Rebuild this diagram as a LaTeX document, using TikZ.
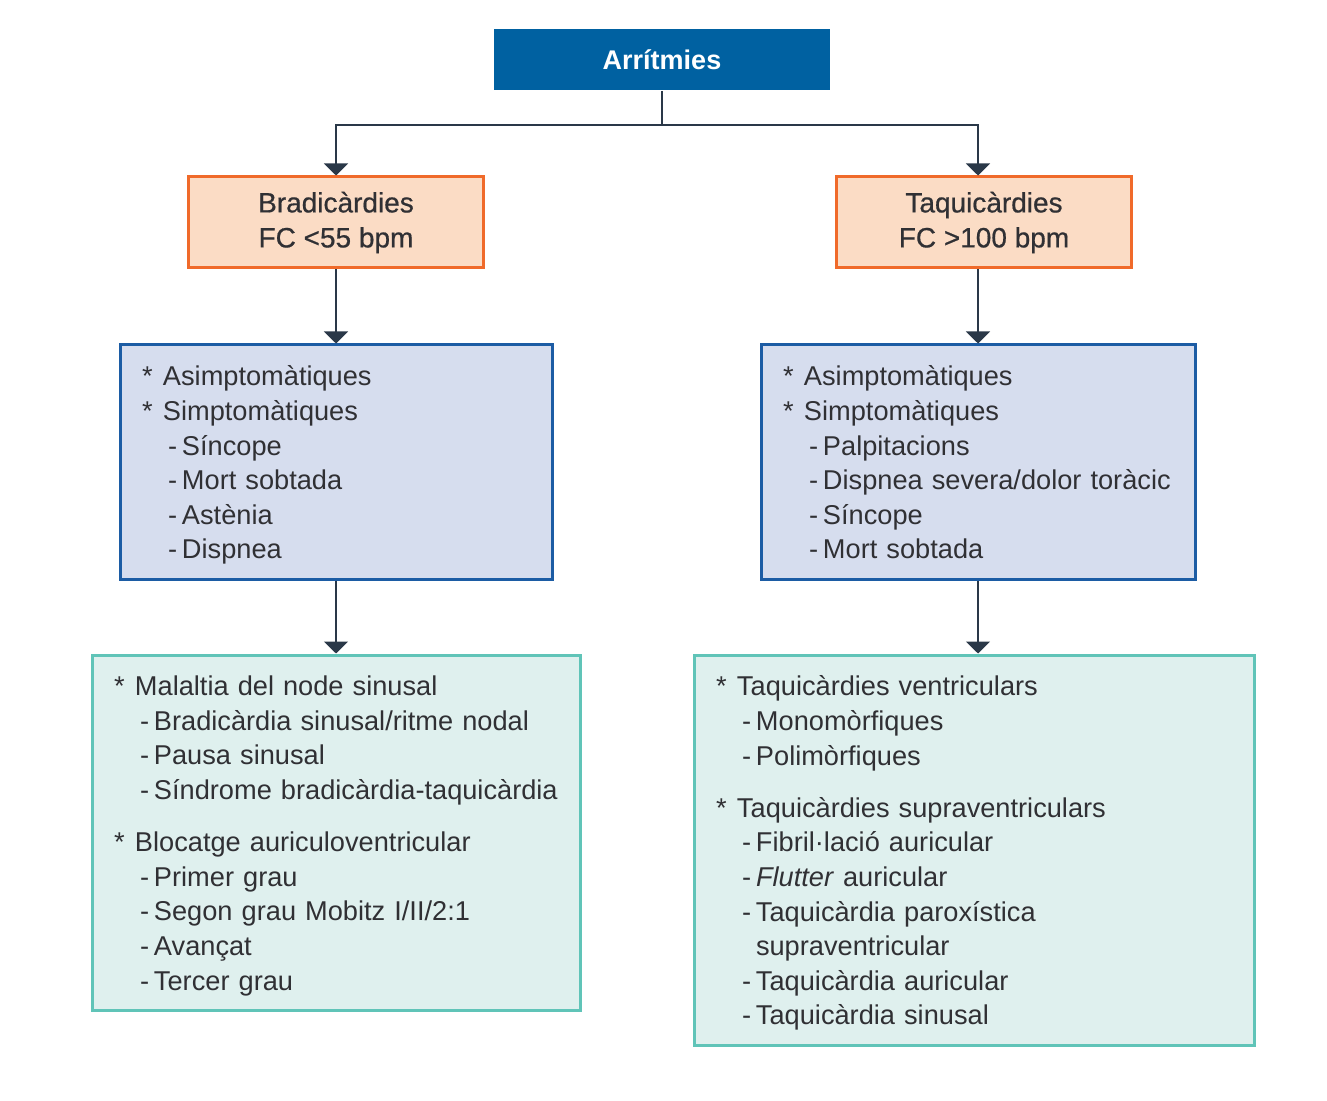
\documentclass[tikz,border=0pt]{standalone}
\usepackage{fontspec}
\setmainfont{Liberation Sans}
\newfontfamily\medfont[FakeBold=0.6]{Liberation Sans}
\usetikzlibrary{arrows.meta}
\definecolor{rootblue}{RGB}{0,97,161}
\definecolor{peachfill}{RGB}{251,220,197}
\definecolor{peachline}{RGB}{240,106,42}
\definecolor{lavfill}{RGB}{214,221,238}
\definecolor{lavline}{RGB}{28,92,164}
\definecolor{mintfill}{RGB}{223,240,238}
\definecolor{mintline}{RGB}{96,196,184}
\definecolor{inkgray}{RGB}{48,48,52}
\definecolor{linegray}{RGB}{42,56,72}
\newcommand{\itm}[1]{\strut\makebox[10.5pt][l]{*}#1}
\newcommand{\sbi}[1]{\strut\hspace*{13pt}\makebox[7pt][l]{-}#1}
\newcommand{\fst}[1]{\rule{0pt}{15.6pt}\itm{#1}}

\begin{document}
\begin{tikzpicture}[x=0.5pt,y=-0.5pt,
  rootbox/.style={fill=rootblue,text=white,font=\bfseries\fontsize{13.5pt}{17pt}\selectfont,
    minimum width=168pt,minimum height=30.5pt,inner sep=0pt},
  hdrbox/.style={fill=peachfill,draw=peachline,line width=1.5pt,text=inkgray,align=center,
    font=\medfont\fontsize{14pt}{17.5pt}\selectfont,minimum width=147.5pt,minimum height=45.5pt,inner sep=0pt},
  listbox/.style={line width=1.5pt,text=inkgray,align=left,inner xsep=11pt,inner ysep=0pt,
    font=\fontsize{13.6pt}{17.3pt}\selectfont},
  symbox/.style={listbox,fill=lavfill,draw=lavline,minimum height=117pt},
  causbox/.style={listbox,fill=mintfill,draw=mintline},
  conn/.style={draw=linegray,line width=1pt,-{Triangle[width=12pt,length=6pt]}}]
  \useasboundingbox (0,0) rectangle (1327,1101);
  \node[rootbox] (1) at (662,60) {Arrítmies};
  \node[hdrbox] (2) at (336,222.5) {Bradicàrdies\\FC <55 bpm};
  \node[hdrbox] (3) at (984,222.5) {Taquicàrdies\\FC >100 bpm};
  \node[symbox,text width=194pt] (4) at (336,462) {%
    \fst{Asimptomàtiques}\\
    \itm{Simptomàtiques}\\
    \sbi{Síncope}\\
    \sbi{Mort sobtada}\\
    \sbi{Astènia}\\
    \sbi{Dispnea}};
  \node[symbox,text width=195pt] (5) at (978,462) {%
    \fst{Asimptomàtiques}\\
    \itm{Simptomàtiques}\\
    \sbi{Palpitacions}\\
    \sbi{Dispnea severa/dolor toràcic}\\
    \sbi{Síncope}\\
    \sbi{Mort sobtada}};
  \node[causbox,text width=222pt,minimum height=177.5pt] (6) at (336,832.5) {%
    \fst{Malaltia del node sinusal}\\
    \sbi{Bradicàrdia sinusal/ritme nodal}\\
    \sbi{Pausa sinusal}\\
    \sbi{Síndrome bradicàrdia-taquicàrdia}\\[8.75pt]
    \itm{Blocatge auriculoventricular}\\
    \sbi{Primer grau}\\
    \sbi{Segon grau Mobitz I/II/2:1}\\
    \sbi{Avançat}\\
    \sbi{Tercer grau}};
  \node[causbox,text width=258pt,minimum height=195pt] (7) at (974,850) {%
    \fst{Taquicàrdies ventriculars}\\
    \sbi{Monomòrfiques}\\
    \sbi{Polimòrfiques}\\[8.75pt]
    \itm{Taquicàrdies supraventriculars}\\
    \sbi{Fibril·lació auricular}\\
    \sbi{\textit{Flutter} auricular}\\
    \sbi{Taquicàrdia paroxística}\\
    \strut\hspace*{20pt}supraventricular\\
    \sbi{Taquicàrdia auricular}\\
    \sbi{Taquicàrdia sinusal}};
  \coordinate (8) at ([yshift=-17pt]1.south);
  \draw[conn] (1.south) -- (8) -| (2.north);
  \draw[conn] (8) -| (5.north |- 3.north);
  \draw[conn] (2.south) -- (4.north);
  \draw[conn] (5.north |- 3.south) -- (5.north);
  \draw[conn] (4.south) -- (6.north);
  \draw[conn] (5.south) -- (5.south |- 7.north);
\end{tikzpicture}
\end{document}
